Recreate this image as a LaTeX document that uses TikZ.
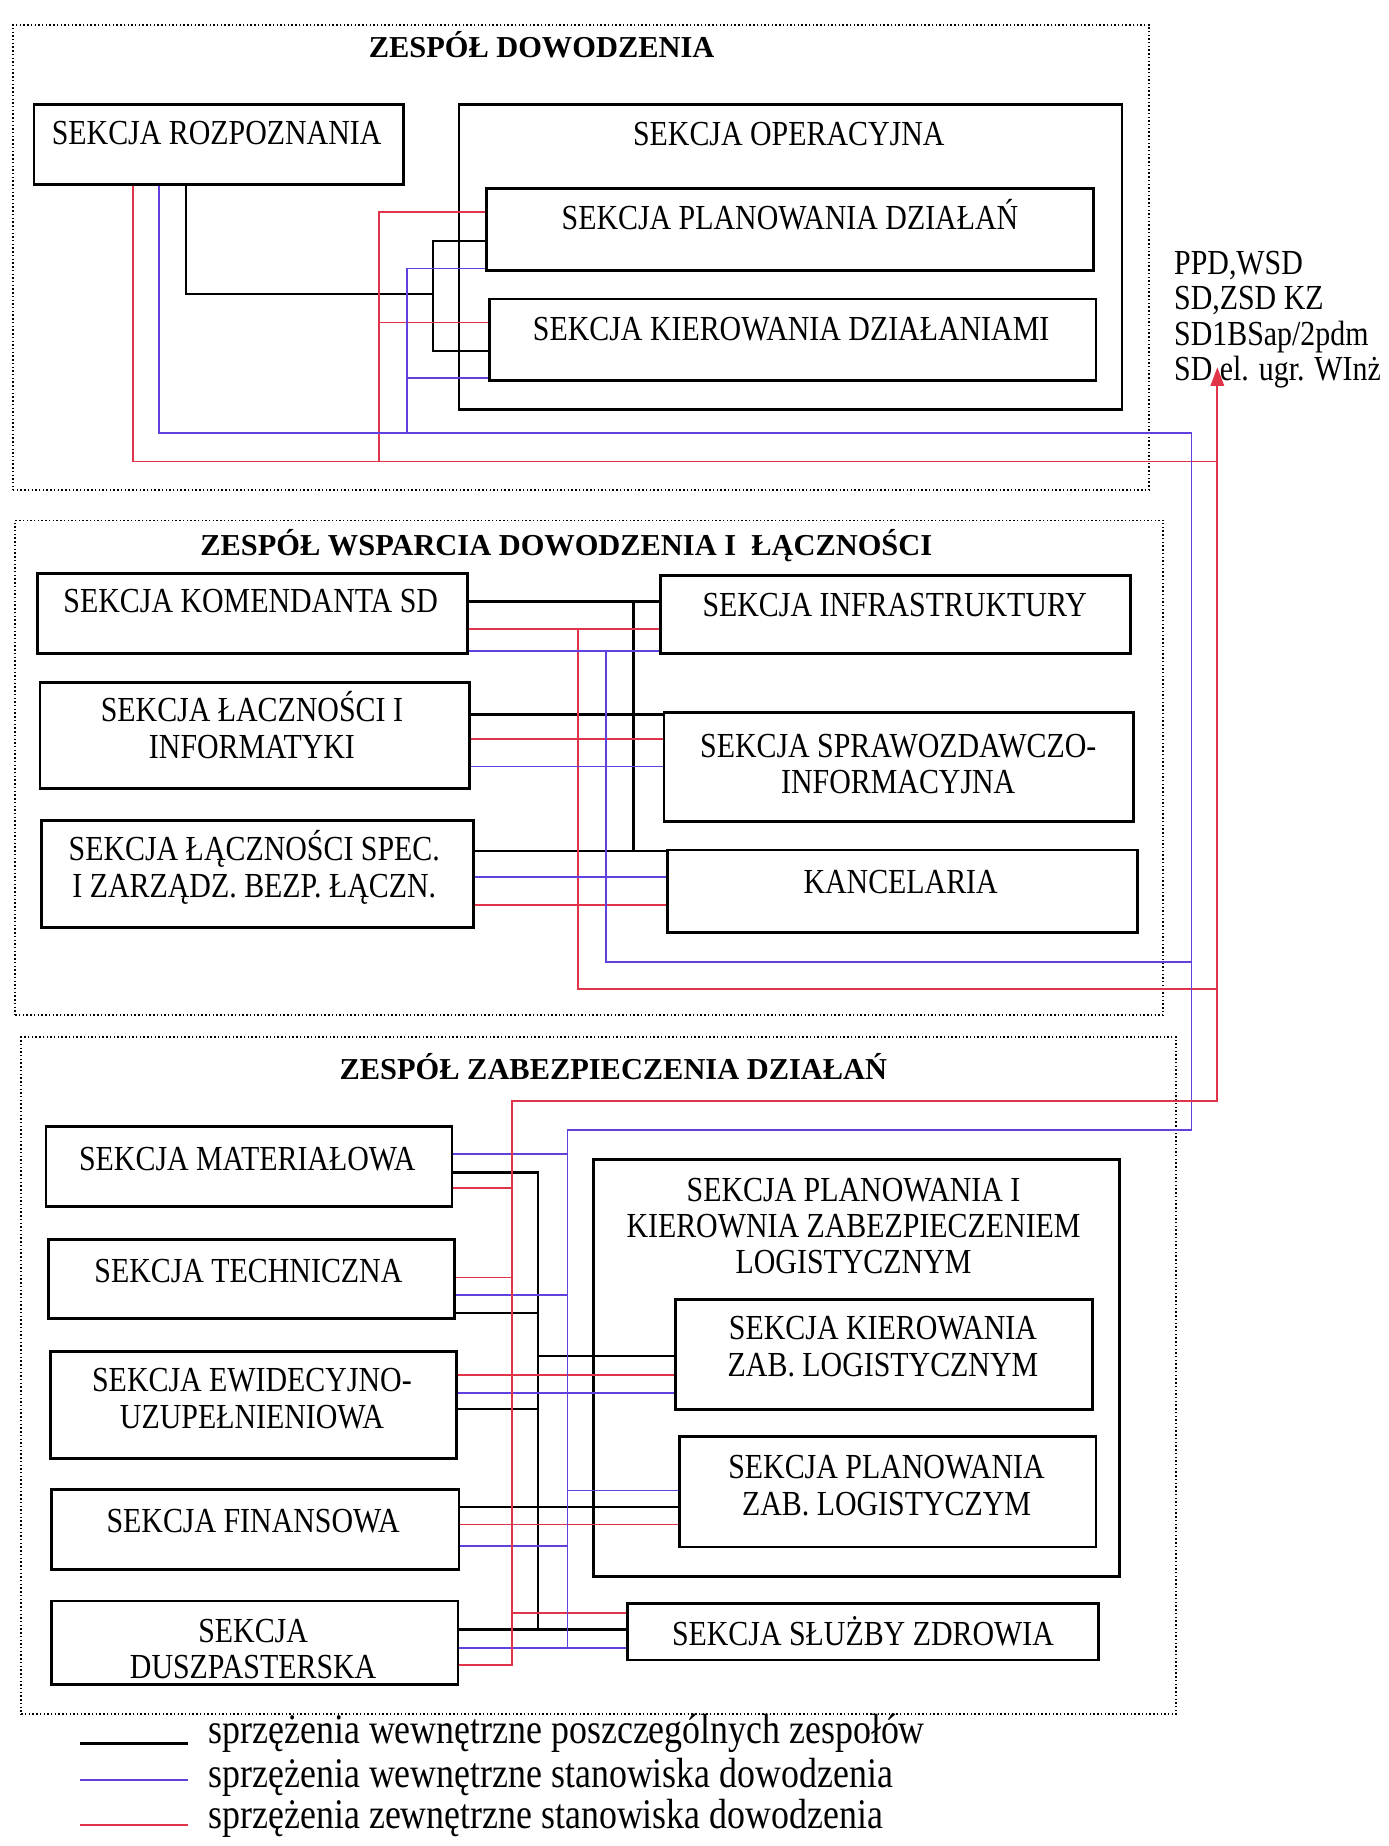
\documentclass[tikz,border=0pt]{standalone}
\usepackage{fontspec}
\setmainfont{Liberation Serif}
\newfontfamily\narrowserif{Liberation Serif}[FakeStretch=0.85]
\usetikzlibrary{fit,arrows.meta}

\definecolor{linkred}{RGB}{226,52,72}
\definecolor{linkblue}{RGB}{98,64,222}

\tikzset{
  sbox/.style={draw, line width=1.3pt, inner sep=0pt},
  team/.style={draw, line width=0.8pt, dash pattern=on 0.7pt off 1.1pt, inner sep=0pt},
  % multi-line labels are placed by the baseline of their last line
  stext/.style={anchor=base, align=center, inner sep=0pt,
    font=\narrowserif\fontsize{17}{17.6}\selectfont},
  ttl/.style={anchor=base, inner sep=0pt, font=\bfseries\fontsize{14.7}{16}\selectfont},
  lgtext/.style={anchor=mid west, inner sep=0pt, font=\narrowserif\fontsize{20.4}{24}\selectfont},
  blk/.style={draw=black, line width=1.1pt},
  redl/.style={draw=linkred, line width=0.85pt},
  bluel/.style={draw=linkblue, line width=0.85pt},
}

\begin{document}
\begin{tikzpicture}[x=0.02cm, y=-0.02cm]
\fill[white] (0,0) rectangle (1179,1568);
\useasboundingbox (0,0) rectangle (1179,1568);

% ---------- team frames ----------
\node[team, fit={(11,21) (976,416)}] (team1) {};
\node[team, fit={(13,442) (988,862)}] (team2) {};
\node[team, fit={(18,881) (999,1456)}] (team3) {};
\node[ttl] (t1) at (460,49) {ZESPÓŁ DOWODZENIA};
\node[ttl] (t2) at (481,472) {ZESPÓŁ WSPARCIA DOWODZENIA I~~ŁĄCZNOŚCI};
\node[ttl] (t3) at (521,917) {ZESPÓŁ ZABEZPIECZENIA DZIAŁAŃ};

% ---------- sections: command team ----------
\node[sbox, fit={(29,89) (343,157)}] (roz) {};
\node[sbox, fit={(390,89) (953,348)}] (ope) {};
\node[sbox, fit={(413,160) (929,230)}] (pla) {};
\node[sbox, fit={(416,254) (931,323)}] (kie) {};
\node[stext] (rozT) at (184,123) {SEKCJA ROZPOZNANIA};
\node[stext] (opeT) at (670,124) {SEKCJA OPERACYJNA};
\node[stext] (plaT) at (671,195) {SEKCJA PLANOWANIA DZIAŁAŃ};
\node[stext] (kieT) at (672,289) {SEKCJA KIEROWANIA DZIAŁANIAMI};

% ---------- sections: support and signals team ----------
\node[sbox, fit={(32,487) (397,555)}] (kom) {};
\node[sbox, fit={(561,489) (960,555)}] (inf) {};
\node[sbox, fit={(34,580) (399,670)}] (lac) {};
\node[sbox, fit={(564,605) (963,698)}] (spr) {};
\node[sbox, fit={(35,697) (402,788)}] (spe) {};
\node[sbox, fit={(567,722) (966,792)}] (kan) {};
\node[stext] (komT) at (213,520) {SEKCJA KOMENDANTA SD};
\node[stext] (infT) at (760,524) {SEKCJA INFRASTRUKTURY};
\node[stext] (lacT) at (214,644) {SEKCJA ŁACZNOŚCI I\\INFORMATYKI};
\node[stext] (sprT) at (763,674) {SEKCJA SPRAWOZDAWCZO-\\INFORMACYJNA};
\node[stext] (speT) at (216,762) {SEKCJA ŁĄCZNOŚCI SPEC.\\I ZARZĄDZ. BEZP. ŁĄCZN.};
\node[stext] (kanT) at (765,759) {KANCELARIA};

% ---------- sections: logistics team ----------
\node[sbox, fit={(39,957) (384,1025)}] (mat) {};
\node[sbox, fit={(41,1053) (386,1120)}] (tec) {};
\node[sbox, fit={(43,1148) (388,1239)}] (ewi) {};
\node[sbox, fit={(44,1265) (390,1333)}] (fin) {};
\node[sbox, fit={(44,1360) (389,1431)}] (dus) {};
\node[sbox, fit={(504,985) (951,1339)}] (plk) {};
\node[sbox, fit={(574,1104) (928,1197)}] (kzl) {};
\node[sbox, fit={(577,1220) (931,1314)}] (pzl) {};
\node[sbox, fit={(533,1362) (933,1410)}] (slz) {};
\node[stext] (matT) at (210,994) {SEKCJA MATERIAŁOWA};
\node[stext] (tecT) at (211,1089) {SEKCJA TECHNICZNA};
\node[stext] (ewiT) at (214,1213) {SEKCJA EWIDECYJNO-\\UZUPEŁNIENIOWA};
\node[stext] (finT) at (215,1302) {SEKCJA FINANSOWA};
\node[stext] (dusT) at (215,1426) {SEKCJA\\DUSZPASTERSKA};
\node[stext] (plkT) at (725,1082) {SEKCJA PLANOWANIA I\\KIEROWNIA ZABEZPIECZENIEM\\LOGISTYCZNYM};
\node[stext] (kzlT) at (750,1169) {SEKCJA KIEROWANIA\\ZAB. LOGISTYCZNYM};
\node[stext] (pzlT) at (753,1287) {SEKCJA PLANOWANIA\\ZAB. LOGISTYCZYM};
\node[stext] (slzT) at (733,1398) {SEKCJA SŁUŻBY ZDROWIA};

% ---------- outside addressees ----------
\node[anchor=base west, align=left, inner sep=0pt,
      font=\narrowserif\fontsize{17}{17}\selectfont] (ext) at (997,323)
      {PPD,WSD\\SD,ZSD KZ\\SD1BSap/2pdm\\SD el. ugr. WInż};
\coordinate (arr) at (1034,312);

% ---------- command team links ----------
\draw[blk] (roz.south -| 158,0) |- (368,250);
\draw[blk] (pla.west |- 0,205) -- (368,205) -- (368,298) -- (kie.west |- 0,298);
\draw[redl] (roz.south -| 113,0) |- (1034,392);
\draw[redl] (pla.west |- 0,180) -| (322,392);
\draw[redl] (kie.west |- 0,274) -- (322,274);
\draw[bluel] (pla.west |- 0,228) -| (346,368);
\draw[bluel] (kie.west |- 0,321) -- (346,321);

% ---------- support team links ----------
\draw[blk] (kom.east |- 0,511) -- (inf.west |- 0,511);
\draw[blk] (538,511) -- (538,723);
\draw[blk] (lac.east |- 0,607) -- (spr.west |- 0,607);
\draw[blk] (spe.east |- 0,723) -- (kan.west |- 0,723);
\draw[redl] (kom.east |- 0,534) -- (inf.west |- 0,534);
\draw[redl] (491,534) |- (1034,840);
\draw[redl] (lac.east |- 0,628) -- (spr.west |- 0,628);
\draw[redl] (spe.east |- 0,769) -- (kan.west |- 0,769);
\draw[bluel] (kom.east |- 0,553) -- (inf.west |- 0,553);
\draw[bluel] (515,553) |- (1012,817);
\draw[bluel] (lac.east |- 0,651) -- (spr.west |- 0,651);
\draw[bluel] (spe.east |- 0,745) -- (kan.west |- 0,745);

% ---------- logistics team links ----------
\draw[blk] (mat.east |- 0,996) -| (457,1384);
\draw[blk] (tec.east |- 0,1115) -- (457,1115);
\draw[blk] (457,1152) -- (kzl.west |- 0,1152);
\draw[blk] (ewi.east |- 0,1197) -- (457,1197);
\draw[blk] (fin.east |- 0,1280) -- (pzl.west |- 0,1280);
\draw[blk] (dus.east |- 0,1384) -- (slz.west |- 0,1384);
\draw[redl] (mat.east |- 0,1009) -- (435,1009);
\draw[redl] (tec.east |- 0,1085) -- (435,1085);
\draw[redl] (ewi.east |- 0,1168) -- (kzl.west |- 0,1168);
\draw[redl] (fin.east |- 0,1295) -- (pzl.west |- 0,1295);
\draw[redl] (435,1370) -- (slz.west |- 0,1370);
\draw[bluel] (mat.east |- 0,980) -- (482,980);
\draw[bluel] (tec.east |- 0,1100) -- (482,1100);
\draw[bluel] (ewi.east |- 0,1183) -- (kzl.west |- 0,1183);
\draw[bluel] (482,1266) -- (pzl.west |- 0,1266);
\draw[bluel] (fin.east |- 0,1313) -- (482,1313);
\draw[bluel] (dus.east |- 0,1400) -- (slz.west |- 0,1400);

% ---------- command-post trunks ----------
\draw[bluel] (roz.south -| 135,0) |- (1012,368) |- (482,960) -- (482,1400);
\draw[redl, -{Triangle[length=9pt,width=6.5pt]}]
  (dus.east |- 0,1414) -| (435,935) -| (arr);

% ---------- legend ----------
\coordinate (lgA1) at (68,1481);  \coordinate (lgB1) at (160,1481);
\coordinate (lgA2) at (68,1512);  \coordinate (lgB2) at (160,1512);
\coordinate (lgA3) at (68,1550);  \coordinate (lgB3) at (160,1550);
\draw[draw=black, line width=1.3pt] (lgA1) -- (lgB1);
\draw[bluel] (lgA2) -- (lgB2);
\draw[redl] (lgA3) -- (lgB3);
\node[lgtext] (lg1) at (177,1477) {sprzężenia wewnętrzne poszczególnych zespołów};
\node[lgtext] (lg2) at (177,1514) {sprzężenia wewnętrzne stanowiska dowodzenia};
\node[lgtext] (lg3) at (177,1549) {sprzężenia zewnętrzne stanowiska dowodzenia};
\end{tikzpicture}
\end{document}
